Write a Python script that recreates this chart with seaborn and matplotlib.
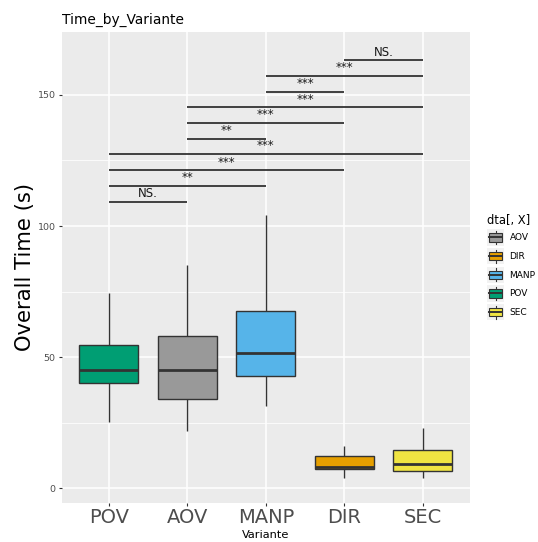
import numpy as np
import pandas as pd
import matplotlib
matplotlib.use("Agg")
import matplotlib.pyplot as plt
from matplotlib.patches import Rectangle, Patch
from matplotlib.lines import Line2D
from matplotlib.legend_handler import HandlerBase
import seaborn as sns

# ---------------- data ----------------
variants = ["POV", "AOV", "MANP", "DIR", "SEC"]
pov_time = [25.3, 40.1, 45.2, 54.5, 74.4]
aov_time = [22.0, 34.2, 45.2, 57.9, 85.0]
manp_time = [31.3, 42.7, 51.6, 67.5, 104.2]
dir_time = [4.0, 7.5, 8.1, 12.2, 16.0]
sec_time = [4.0, 6.8, 9.3, 14.8, 23.1]

colors = {"AOV": "#999999", "DIR": "#E69F00", "MANP": "#56B4E9",
          "POV": "#009E73", "SEC": "#F0E442"}
legend_order = ["AOV", "DIR", "MANP", "POV", "SEC"]

sig_pairs = [("POV", "AOV"), ("POV", "MANP"), ("POV", "DIR"), ("POV", "SEC"),
             ("AOV", "MANP"), ("AOV", "DIR"), ("AOV", "SEC"),
             ("MANP", "DIR"), ("MANP", "SEC"), ("DIR", "SEC")]
sig_labels = ["NS.", "**", "***", "***", "**", "***", "***", "***", "***", "NS."]
sig_y = [109.3, 115.2, 121.2, 127.4, 133.3, 139.3, 145.2, 151.2, 157.2, 163.1]

y_ticks = [0, 50, 100, 150]
y_minor = [25, 75, 125]

df = pd.DataFrame({
    "Variante": (["POV"] * len(pov_time) + ["AOV"] * len(aov_time) +
                 ["MANP"] * len(manp_time) + ["DIR"] * len(dir_time) +
                 ["SEC"] * len(sec_time)),
    "Time": pov_time + aov_time + manp_time + dir_time + sec_time,
})

# ---------------- figure ----------------
W, H = 538, 542
fig = plt.figure(figsize=(W / 100, H / 100), dpi=100)
ax = fig.add_axes([61.7 / W, 1 - 502.7 / H, (470 - 61.7) / W, (502.7 - 31.7) / H])
ax.set_facecolor("#EBEBEB")

# grid
for v in y_ticks:
    ax.axhline(v, color="white", lw=1.1, zorder=0)
for v in y_minor:
    ax.axhline(v, color="white", lw=0.55, zorder=0)
for i in range(len(variants)):
    ax.axvline(i, color="white", lw=1.1, zorder=0)

sns.boxplot(data=df, x="Variante", y="Time", hue="Variante", order=variants,
            hue_order=variants, palette=colors, width=0.75, linewidth=1.0,
            linecolor="#333333", legend=False, ax=ax, dodge=False,
            saturation=1, showcaps=False,
            medianprops={"linewidth": 2.0, "color": "#333333"},
            boxprops={"zorder": 2}, whiskerprops={"zorder": 2})

# significance brackets
idx = {v: i for i, v in enumerate(variants)}
for (a, b), lab, yv in zip(sig_pairs, sig_labels, sig_y):
    x0, x1 = idx[a], idx[b]
    ax.plot([x0, x1], [yv, yv], color="#333333", lw=1.3, zorder=3,
            solid_capstyle="butt")
    ax.annotate(lab, xy=((x0 + x1) / 2, yv), xytext=(0, 3.5),
                textcoords="offset points", ha="center", va="baseline",
                fontsize=8.5, color="#1A1A1A")

ax.set_xlim(-0.6, 4.6)
ax.set_ylim(-5.45, 174.05)
ax.set_yticks(y_ticks)
ax.set_yticklabels([str(t) for t in y_ticks])
for s in ax.spines.values():
    s.set_visible(False)
ax.tick_params(axis="y", labelsize=6.8, labelcolor="#4D4D4D", color="#333333",
               length=2.5, width=0.8, pad=2)
ax.tick_params(axis="x", labelsize=14, labelcolor="#4D4D4D", color="#333333",
               length=2.5, width=0.8, pad=1.5)
ax.set_xlabel("Variante", fontsize=8.2, color="black", labelpad=2)
ax.set_ylabel("Overall Time (s)", fontsize=15.2, color="black", labelpad=2)
ax.set_title("Time_by_Variante", loc="left", fontsize=9.9, color="black", pad=6)


# legend with boxplot glyph keys
class BoxKeyHandler(HandlerBase):
    def create_artists(self, legend, orig_handle, xdescent, ydescent, width,
                       height, fontsize, trans):
        x0, y0 = -xdescent, -ydescent
        arts = []
        arts.append(Rectangle((x0, y0), width, height, facecolor="#F2F2F2",
                              edgecolor="none", transform=trans))
        cx = x0 + width / 2
        lc = "#333333"
        arts.append(Line2D([cx, cx], [y0 + 0.1 * height, y0 + 0.25 * height],
                           color=lc, lw=0.8, transform=trans))
        arts.append(Line2D([cx, cx], [y0 + 0.75 * height, y0 + 0.9 * height],
                           color=lc, lw=0.8, transform=trans))
        arts.append(Rectangle((x0 + 0.125 * width, y0 + 0.25 * height),
                              0.75 * width, 0.5 * height,
                              facecolor=orig_handle.get_facecolor(),
                              edgecolor=lc, lw=0.8, transform=trans))
        arts.append(Line2D([x0 + 0.125 * width, x0 + 0.875 * width],
                           [y0 + 0.5 * height, y0 + 0.5 * height],
                           color=lc, lw=1.4, transform=trans))
        return arts


handles = [Patch(facecolor=colors[k]) for k in legend_order]
leg = fig.legend(handles, legend_order, title="dta[, X]", loc="upper left",
                 bbox_to_anchor=(487 / W, 1 - 214 / H), frameon=False,
                 fontsize=6.5, title_fontsize=8.3, handlelength=1.9,
                 handleheight=2.42, labelspacing=0.25, handletextpad=0.6,
                 borderpad=0, borderaxespad=0, alignment="left",
                 handler_map={Patch: BoxKeyHandler()})

fig.savefig("out.png", dpi=100)
